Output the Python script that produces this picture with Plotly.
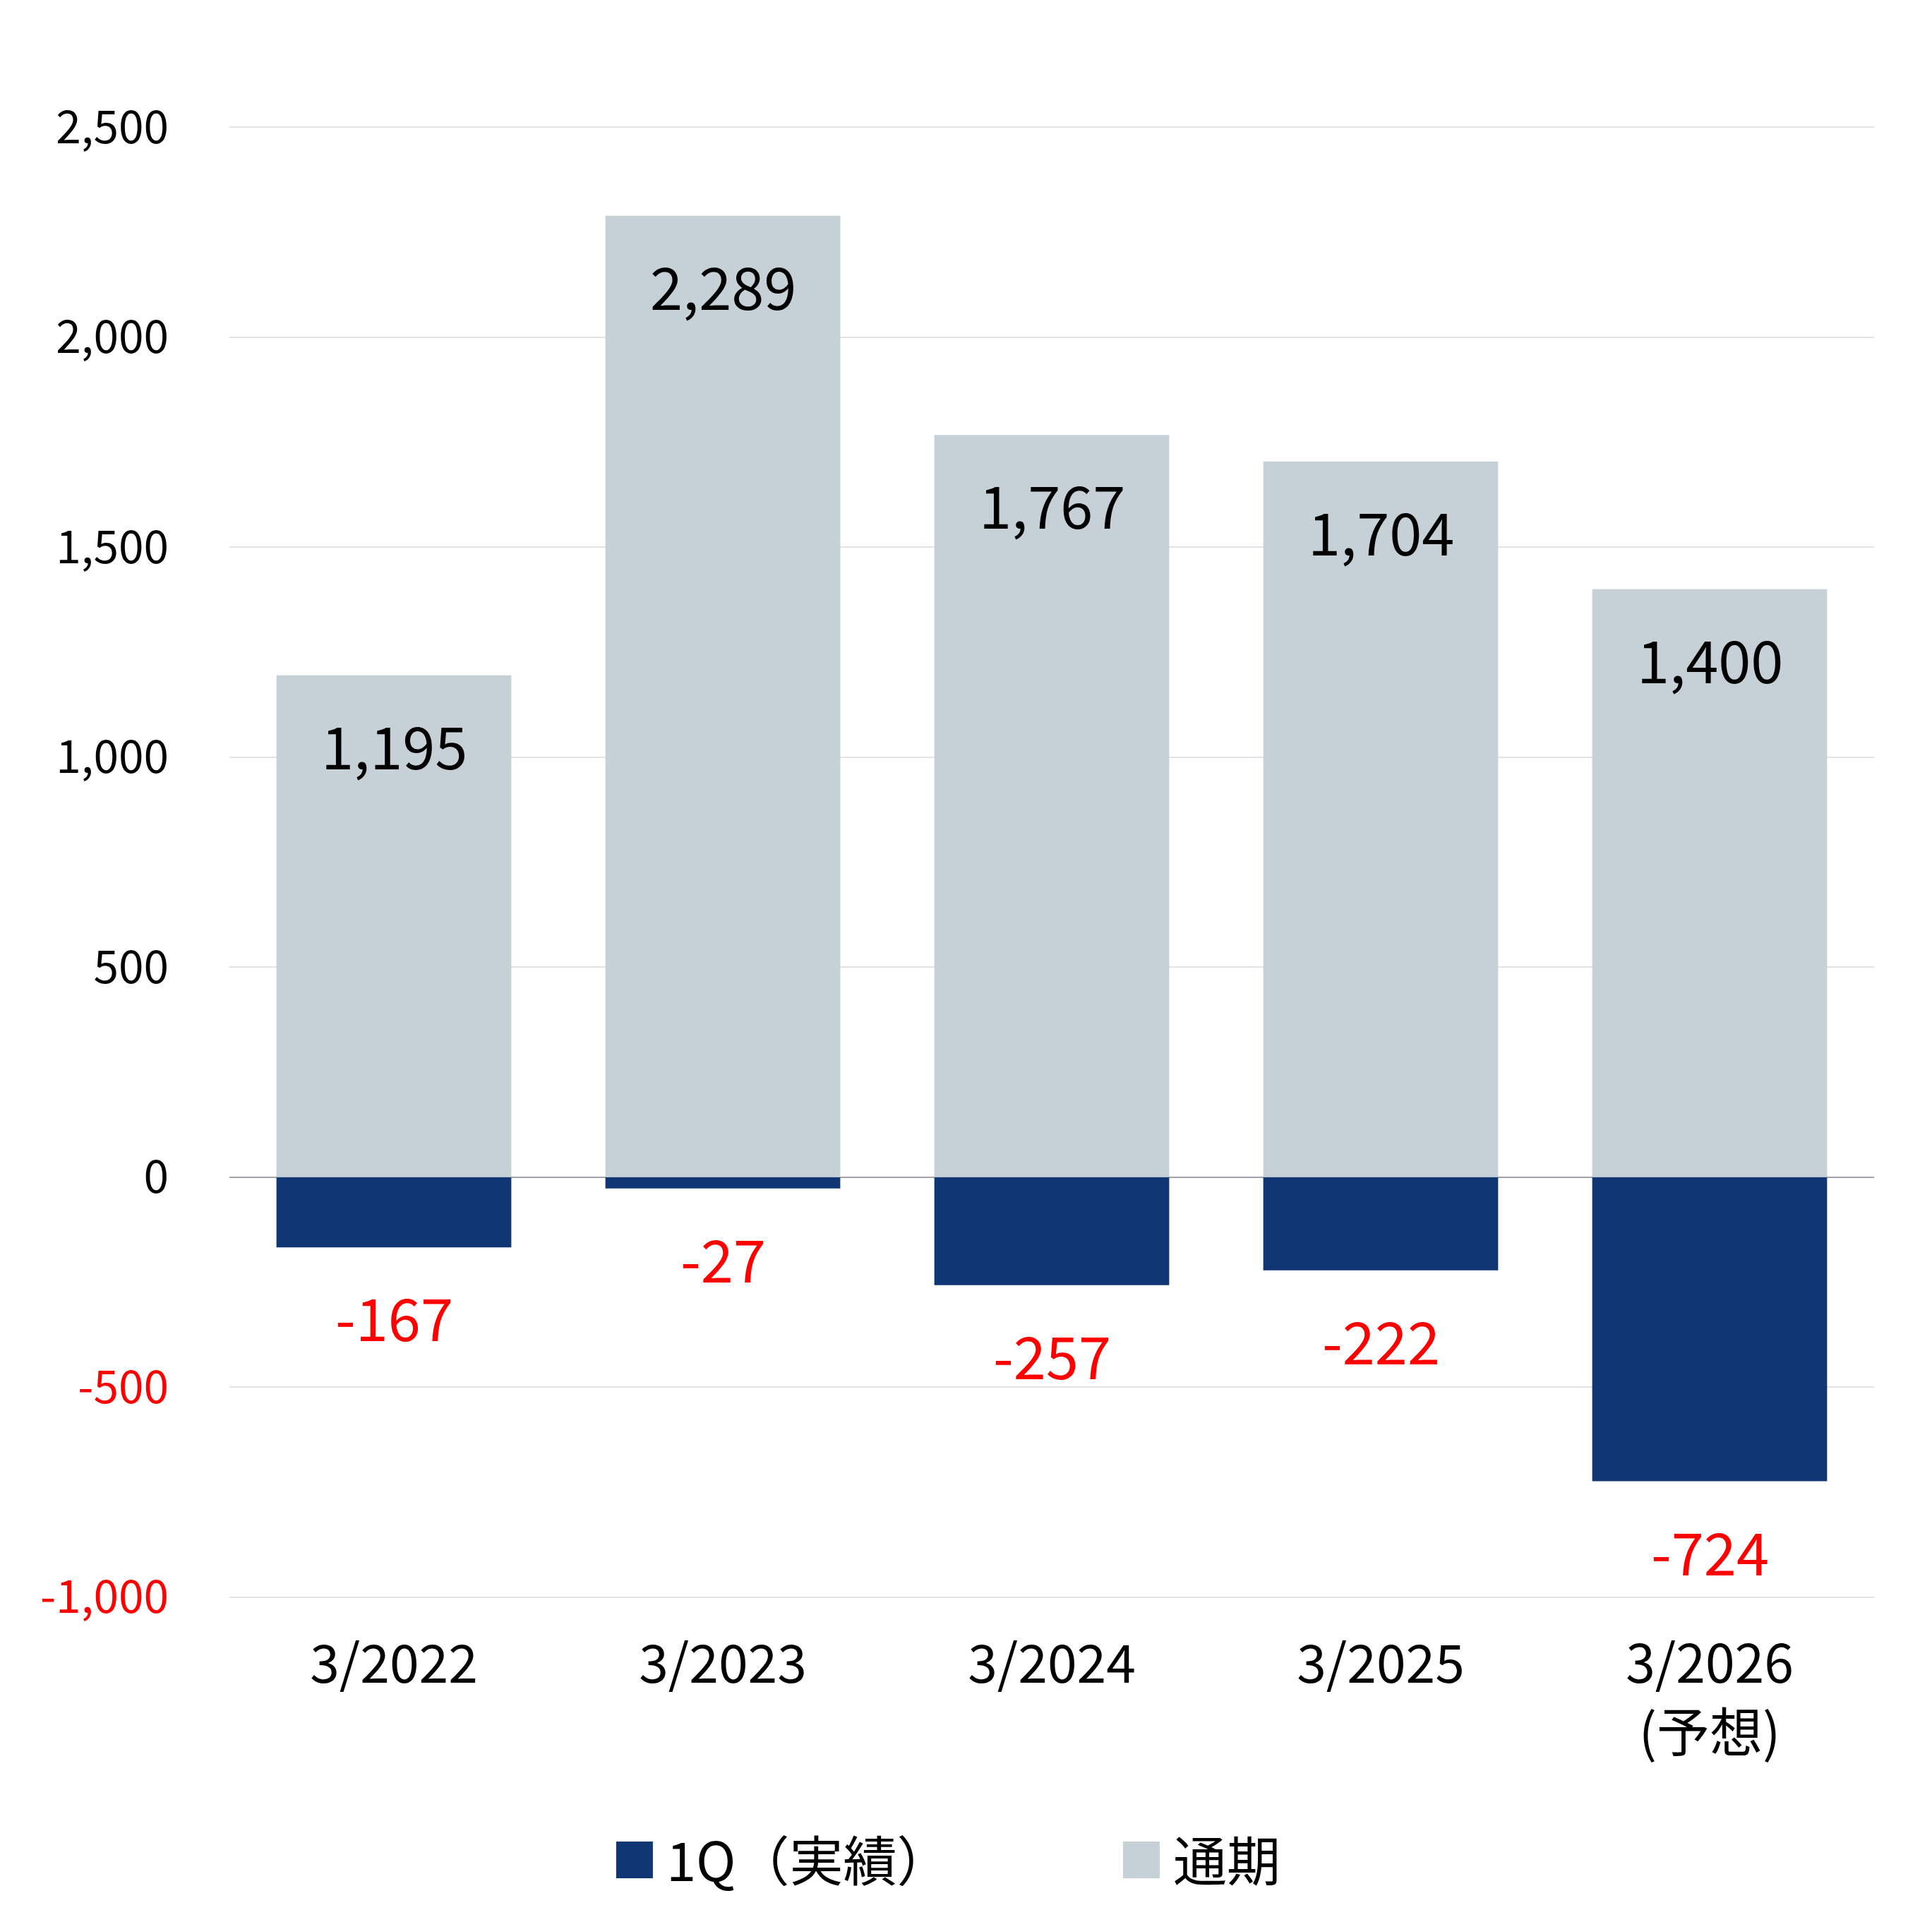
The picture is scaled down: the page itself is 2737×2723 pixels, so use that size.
import plotly.graph_objects as go

# 年度（カテゴリ）
categories = ["3/2022", "3/2023", "3/2024", "3/2025", "3/2026<br>(予想)"]

# 1Q（実績）と通期
q1_values = [-167, -27, -257, -222, -724]
full_year_values = [1195, 2289, 1767, 1704, 1400]

# 縦軸の目盛り
y_tick_values = [-1000, -500, 0, 500, 1000, 1500, 2000, 2500]

NAVY = "#103673"
LIGHT = "#C5D0D7"
RED = "#FF0000"
FONT = "Noto Sans CJK JP"


def fmt(v):
    return f"{v:,}"


def tick_label(v):
    # マイナスの目盛りは赤
    if v < 0:
        return f"<span style='color:{RED}'>{fmt(v)}</span>"
    return fmt(v)


fig = go.Figure()

fig.add_trace(go.Bar(
    x=categories,
    y=q1_values,
    name="1Q（実績）",
    marker=dict(color=NAVY, line=dict(width=0)),
))

fig.add_trace(go.Bar(
    x=categories,
    y=full_year_values,
    name="通期",
    marker=dict(color=LIGHT, line=dict(width=0)),
))

# 値ラベル（棒の端から少し離して表示）
for cat, v in zip(categories, full_year_values):
    fig.add_annotation(
        x=cat, y=v, text=fmt(v), showarrow=False,
        yanchor="middle", yshift=-97,
        font=dict(family=FONT, size=83, color="black"),
    )

for cat, v in zip(categories, q1_values):
    fig.add_annotation(
        x=cat, y=v, text=fmt(v), showarrow=False,
        yanchor="middle", yshift=-97,
        font=dict(family=FONT, size=83, color=RED),
    )

fig.update_layout(
    width=2737,
    height=2723,
    barmode="relative",
    bargap=0.286,
    plot_bgcolor="white",
    paper_bgcolor="white",
    font=dict(family=FONT, size=64, color="black"),
    margin=dict(l=317, r=90, t=171, b=467),
    showlegend=True,
    legend=dict(
        orientation="h",
        x=0.227, xanchor="left",
        y=-0.178, yanchor="middle",
        font=dict(family=FONT, size=76, color="black"),
        itemwidth=80,
        traceorder="normal",
        entrywidthmode="pixels",
        entrywidth=623,
    ),
)

fig.update_yaxes(
    range=[-1002, 2502],
    tickvals=y_tick_values,
    ticktext=[tick_label(v) for v in y_tick_values],
    showgrid=True,
    gridcolor="#E3E3E3",
    gridwidth=1.5,
    zeroline=True,
    zerolinecolor="#A3A3AB",
    zerolinewidth=2,
    ticks="",
    ticklabelstandoff=85,
    tickfont=dict(family=FONT, size=64),
)

fig.update_xaxes(
    showgrid=False,
    showline=False,
    ticks="",
    ticklabelstandoff=44,
    tickfont=dict(family=FONT, size=75),
)

# 凡例の四角を参照図と同じ大きさに
post_js = """
var gd = document.getElementById('{plot_id}');
function bigSwatch() {
  gd.querySelectorAll('g.legendpoints path').forEach(function (p) {
    p.setAttribute('d', 'M26,26H-26V-26H26Z');
  });
}
bigSwatch();
gd.on('plotly_afterplot', bigSwatch);
"""

fig.write_html("out.html", post_script=post_js)
